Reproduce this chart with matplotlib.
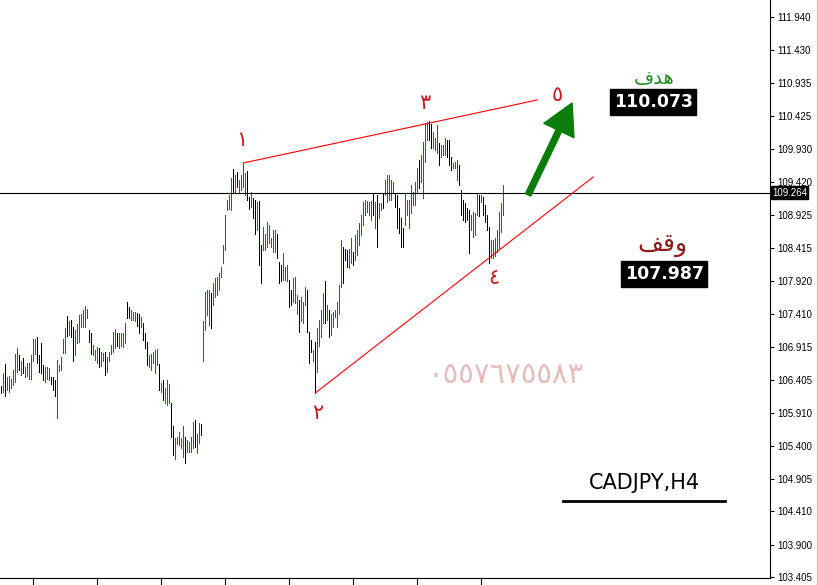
import matplotlib
matplotlib.use('Agg')
import matplotlib.pyplot as plt
from matplotlib.lines import Line2D

# ---------------- data (CADJPY H4 bars) ----------------
highs = [
    106.31, 106.51, 106.65, 106.45, 106.47, 106.43, 106.56, 106.80, 106.89, 106.79,
    106.69, 106.74, 106.61, 106.66, 106.67, 106.79, 107.03, 107.03, 107.07, 106.79,
    106.97, 106.64, 106.61, 106.60, 106.59, 106.46, 106.45, 106.41, 106.71, 106.64,
    106.76, 107.03, 107.20, 107.38, 107.30, 107.32, 107.22, 107.17, 107.26, 107.40,
    107.41, 107.48, 107.54, 107.49, 107.17, 107.12, 106.94, 106.87, 106.91, 106.89,
    106.84, 106.82, 106.84, 106.76, 106.84, 106.94, 107.14, 107.18, 107.12, 107.12,
    107.12, 107.13, 107.28, 107.59, 107.52, 107.48, 107.45, 107.45, 107.43, 107.42,
    107.37, 107.27, 107.12, 106.99, 106.79, 106.81, 106.84, 106.87, 106.88, 106.65,
    106.36, 106.41, 106.28, 106.41, 106.35, 106.05, 105.71, 105.52, 105.54, 105.62,
    105.52, 105.70, 105.54, 105.50, 105.47, 105.54, 105.76, 105.80, 105.59, 105.75,
    105.74, 107.30, 107.75, 107.78, 107.78, 107.73, 107.88, 107.96, 107.98, 108.04,
    108.13, 108.47, 108.92, 109.15, 109.23, 109.48, 109.63, 109.53, 109.58, 109.46,
    109.53, 109.71, 109.56, 109.60, 109.20, 109.28, 109.18, 109.15, 109.12, 109.14,
    108.47, 108.74, 108.64, 108.82, 108.77, 108.57, 108.70, 108.69, 108.64, 108.21,
    108.16, 108.34, 108.13, 108.16, 107.93, 107.78, 107.96, 107.98, 107.70, 107.63,
    107.68, 107.60, 107.83, 107.78, 107.14, 107.02, 106.87, 106.99, 107.20, 107.32,
    107.48, 107.73, 107.91, 107.55, 107.48, 107.42, 107.45, 107.48, 107.60, 107.86,
    108.54, 108.44, 108.41, 108.39, 108.41, 108.57, 108.36, 108.62, 108.69, 108.80,
    108.92, 109.12, 109.15, 109.14, 109.12, 109.14, 109.25, 109.12, 109.23, 109.11,
    109.11, 109.26, 109.46, 109.53, 109.53, 109.46, 109.43, 109.26, 109.23, 109.03,
    108.88, 108.72, 109.26, 109.15, 109.15, 109.38, 109.28, 109.43, 109.64, 109.76,
    109.84, 110.04, 110.32, 110.34, 110.36, 110.31, 110.19, 110.10, 110.29, 110.02,
    109.99, 109.99, 110.10, 110.07, 110.07, 109.81, 109.71, 109.73, 109.76, 109.68,
    109.30, 109.15, 109.11, 109.03, 109.00, 108.92, 108.97, 108.95, 109.26, 109.23,
    109.23, 109.20, 109.08, 108.92, 108.74, 108.54, 108.54, 108.57, 108.69, 108.97,
    109.11, 109.38,
]
lows = [
    106.21, 106.23, 106.16, 106.26, 106.23, 106.28, 106.33, 106.38, 106.53, 106.56,
    106.48, 106.51, 106.46, 106.47, 106.43, 106.42, 106.69, 106.81, 106.66, 106.53,
    106.51, 106.40, 106.38, 106.43, 106.40, 106.35, 106.26, 106.16, 105.83, 106.55,
    106.56, 106.82, 106.82, 107.08, 107.09, 107.07, 106.70, 106.79, 106.97, 106.98,
    107.22, 107.22, 107.22, 107.35, 106.99, 106.81, 106.79, 106.71, 106.66, 106.61,
    106.62, 106.69, 106.48, 106.53, 106.69, 106.81, 106.84, 106.89, 106.92, 106.89,
    106.92, 106.91, 106.97, 107.35, 107.35, 107.32, 107.32, 107.30, 107.23, 107.12,
    107.22, 107.02, 106.89, 106.64, 106.61, 106.56, 106.66, 106.51, 106.64, 106.26,
    106.23, 106.10, 106.05, 106.03, 106.05, 105.54, 105.27, 105.21, 105.43, 105.42,
    105.37, 105.24, 105.15, 105.31, 105.31, 105.31, 105.37, 105.39, 105.29, 105.44,
    105.57, 106.69, 107.17, 107.40, 107.25, 107.20, 107.55, 107.68, 107.70, 107.78,
    107.98, 108.19, 108.39, 109.00, 109.02, 109.00, 109.28, 109.25, 109.35, 109.25,
    109.30, 109.35, 109.23, 109.15, 109.02, 109.05, 108.87, 108.64, 108.69, 108.16,
    107.88, 108.39, 108.39, 108.44, 108.49, 108.44, 108.36, 108.36, 108.26, 107.88,
    107.91, 107.93, 107.93, 107.91, 107.52, 107.55, 107.60, 107.58, 107.42, 107.14,
    107.30, 107.27, 107.55, 107.14, 106.66, 106.84, 106.69, 106.21, 106.53, 106.92,
    107.07, 107.27, 107.27, 107.32, 107.07, 107.09, 107.22, 107.37, 107.22, 107.42,
    107.83, 107.88, 108.24, 108.13, 108.11, 108.19, 108.16, 108.24, 108.31, 108.47,
    108.62, 108.77, 108.92, 108.97, 108.92, 108.85, 108.92, 108.72, 108.44, 108.88,
    109.00, 109.03, 109.23, 109.12, 109.15, 109.15, 109.26, 109.05, 108.72, 108.65,
    108.44, 108.44, 108.77, 108.92, 108.72, 108.95, 109.08, 109.08, 109.26, 109.33,
    109.43, 109.18, 109.73, 110.07, 110.07, 109.94, 109.94, 109.91, 109.87, 109.68,
    109.81, 109.84, 109.84, 109.81, 109.68, 109.61, 109.64, 109.64, 109.46, 109.38,
    108.92, 108.85, 108.82, 108.85, 108.34, 108.69, 108.59, 108.62, 108.92, 108.90,
    109.12, 108.92, 108.82, 108.69, 108.19, 108.27, 108.27, 108.29, 108.36, 108.42,
    108.67, 108.92,
]
# g = up bar (green), k = down bar (black)
bar_dir = ("kgkggggggk" "gkggggggkk" "kkgggkkkgg" "gggkgkkggg" "ggggkkgggk"
           "ggkgggggkg" "gggkkgggkk" "gkkkgggggk" "gkgggkkggg" "ggkggggkgg"
           "kggggkgggg" "ggggggkgkg" "gggkkgkkgk" "kgggggggkk" "kgggkkgggk"
           "gggkkkgkgg" "ggkgkggggg" "gkkkggkggg" "ggggggkgkg" "gkgggggkkk"
           "kkgggggggk" "ggggkkgggk" "gggkkkgggk" "kkkkkggggk" "gkkkkggggg"
           "gg")

current_price = 109.264
ytick_vals = [111.940, 111.430, 110.935, 110.425, 109.930, 109.420, 108.925,
              108.415, 107.920, 107.410, 106.915, 106.405, 105.910, 105.400,
              104.905, 104.410, 103.900, 103.405]
xtick_bars = [16, 48, 80, 112, 144, 176, 208, 240]

wave_labels = ["\u0661", "\u0662", "\u0663", "\u0664", "\u0665"]
wave_x = [120.3, 158.3, 211.9, 246.3, 277.9]
wave_y = [110.07, 105.90, 110.63, 107.96, 110.75]

upper_x = [121, 267.9]
upper_y = [109.715, 110.675]
lower_x = [157, 295.9]
lower_y = [106.21, 109.50]

arrow_from = (263.4, 109.23)
arrow_to = (285.4, 110.63)

target_word = "\uFED1\uFEAA\uFEEB"   # هدف (shaped, visual order)
stop_word = "\uFED2\uFED7\uFEED"     # وقف (shaped, visual order)
target_price = "110.073"
stop_price = "107.987"
symbol = "CADJPY,H4"
phone = "\u0660\u0665\u0665\u0667\u0666\u0667\u0665\u0665\u0668\u0663"

# ---------------- figure ----------------
W, H = 818, 585
fig = plt.figure(figsize=(W / 100, H / 100), dpi=100)
fig.patch.set_facecolor('white')
ax = fig.add_axes([0, 7 / H, 770 / W, 578 / H])
ax.set_facecolor('white')

idx = list(range(len(highs)))
cols = ['#236a23' if c == 'g' else '#000000' for c in bar_dir]
ax.vlines(idx, lows, highs, colors=cols, linewidth=0.6, antialiased=False)

ax.axhline(current_price, color='black', linewidth=0.8)
ax.plot(upper_x, upper_y, color='#ff0000', linewidth=0.8)
ax.plot(lower_x, lower_y, color='#ff0000', linewidth=0.8)

ax.annotate('', xy=arrow_to, xytext=arrow_from,
            arrowprops=dict(arrowstyle='simple,head_width=2.4,head_length=2.2,tail_width=0.42',
                            mutation_scale=10, color='#0a7d0a', shrinkA=0, shrinkB=0))

for lab, x, y in zip(wave_labels, wave_x, wave_y):
    ax.text(x, y, lab, color='#c41e1e', fontsize=15, ha='center', va='center',
            family=['DejaVu Sans'])

ax.text(326.4, 111.01, target_word, color='#1f8f1f', fontsize=14, ha='center',
        va='center', family=['DejaVu Sans'])
ax.text(325.9, 110.644, target_price, color='white', fontsize=12.5, fontweight='bold',
        ha='center', va='center', family=['DejaVu Sans'],
        bbox=dict(boxstyle='square,pad=0.22', fc='black', ec='black'))
ax.text(330.4, 108.465, stop_word, color='#8f1a1a', fontsize=18, ha='center',
        va='center', family=['DejaVu Sans'])
ax.text(331.4, 108.023, stop_price, color='white', fontsize=12.5, fontweight='bold',
        ha='center', va='center', family=['DejaVu Sans'],
        bbox=dict(boxstyle='square,pad=0.22', fc='black', ec='black'))

ax.text(252.4, 106.484, phone, color='#e6bcbc', fontsize=21, ha='center',
        va='center', family=['DejaVu Sans'])

ax.text(321.4, 104.837, symbol, color='black', fontsize=15, ha='center',
        va='center', family=['DejaVu Sans'])
ax.plot([280.9, 361.9], [104.563, 104.563], color='black', linewidth=2)

# axes / scales
ax.set_xlim(-0.65, 384.35)
ax.set_ylim(103.390, 112.199)
ax.spines['top'].set_visible(False)
ax.spines['left'].set_visible(False)
ax.spines['right'].set_color('black')
ax.spines['bottom'].set_color('black')
ax.spines['right'].set_linewidth(0.8)
ax.spines['bottom'].set_linewidth(0.8)

ax.yaxis.tick_right()
ax.set_yticks(ytick_vals)
ax.set_yticklabels([f"{v:.3f}" for v in ytick_vals], fontsize=7,
                   family=['Liberation Sans'])
ax.tick_params(axis='y', direction='out', length=3, width=0.8, pad=2,
               colors='black')
ax.set_xticks(xtick_bars)
ax.set_xticklabels([])
ax.tick_params(axis='x', direction='out', length=6, width=0.8)

ax.text(1.0 + 2 / 770, current_price, f"{current_price:.3f}", transform=ax.get_yaxis_transform(),
        color='white', fontsize=7, ha='left', va='center', family=['Liberation Sans'],
        bbox=dict(boxstyle='square,pad=0.12', fc='black', ec='black'), clip_on=False)

fig.add_artist(Line2D([816.5 / W, 816.5 / W], [0, 1], color='#c8c8c8', linewidth=1,
                      transform=fig.transFigure))

fig.savefig('out.png', dpi=100, facecolor='white')
